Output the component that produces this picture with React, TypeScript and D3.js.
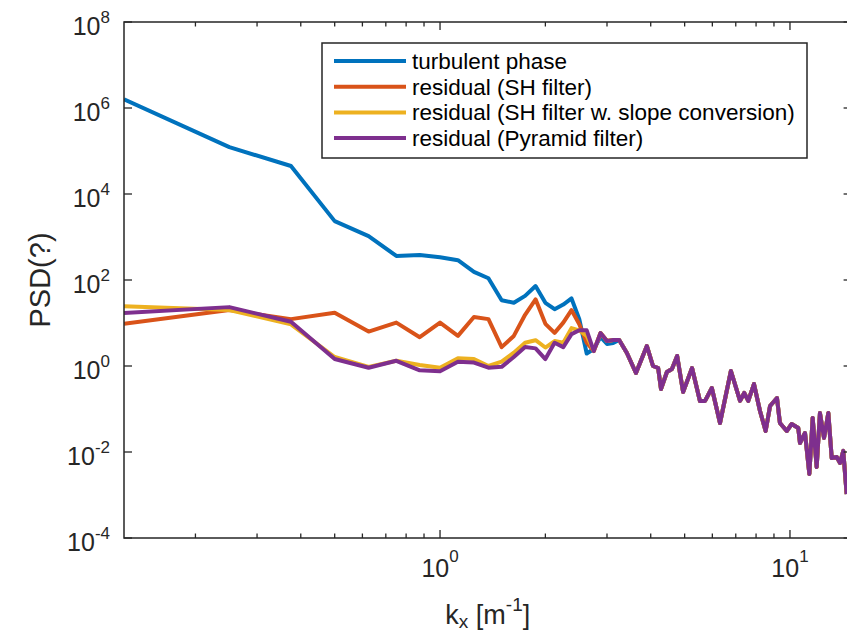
import { useMemo } from "react";
import * as d3 from "d3";

const WIDTH = 847;
const HEIGHT = 635;
// plot box (right edge falls just outside the picture, as in the reference)
const BOX = { left: 124, right: 851.6, top: 22, bottom: 538 };

// wavenumbers of the first samples (k = 1/8 ... 21/8)
const kHead = [
  0.125, 0.25, 0.375, 0.5, 0.625, 0.75, 0.875, 1.0, 1.125, 1.25, 1.375,
  1.5, 1.625, 1.75, 1.875, 2.0, 2.125, 2.25, 2.375, 2.5, 2.625,
];

const turbulentHead = [
  1.6e6, 1.23e5, 4.47e4, 2340, 1047, 363, 380, 339, 288, 155, 110,
  33.9, 29.5, 42.7, 72.4, 29.5, 20.9, 26.9, 37.2, 12.3, 1.95,
];
const turbulentExtra = [
  [2.75, 2.49], [2.875, 4.73], [3.0, 3.25], [3.125, 3.43],
];
const shHead = [
  9.55, 20.0, 12.3, 17.4, 6.31, 10.2, 4.68, 10.2, 5.01, 13.8, 12.3,
  2.75, 5.01, 15.5, 35.5, 9.55, 5.89, 10.2, 20.0, 9.33, 3.47,
];
const slopeHead = [
  24.5, 20.0, 9.33, 1.62, 0.955, 1.32, 1.05, 0.912, 1.51, 1.45, 1.0,
  1.26, 2.04, 3.47, 3.98, 2.69, 3.8, 3.47, 7.59, 6.76, 5.01,
];
const pyramidHead = [
  17.0, 23.4, 10.7, 1.45, 0.912, 1.32, 0.794, 0.759, 1.26, 1.2, 0.912,
  0.955, 1.62, 2.75, 2.57, 1.45, 3.47, 2.75, 5.5, 6.76, 6.76,
];

// high-k part where all four curves coincide: [k, psd]
const sharedTail = [
  [2.75, 2.23], [2.875, 5.85], [3.0, 3.81], [3.125, 4.02], [3.25, 4.02],
  [3.42, 2.01], [3.63, 0.688], [3.9, 2.92], [4.06, 1.0], [4.2, 0.898],
  [4.28, 0.292], [4.45, 0.725], [4.6, 0.852], [4.76, 1.71], [4.95, 0.249],
  [5.25, 0.898], [5.53, 0.154], [5.72, 0.154], [5.98, 0.308], [6.31, 0.0472],
  [6.78, 0.765], [7.2, 0.154], [7.4, 0.236], [7.6, 0.154], [7.89, 0.381],
  [8.21, 0.0898], [8.52, 0.0308], [8.77, 0.117], [9.18, 0.18], [9.36, 0.0472],
  [9.79, 0.0308], [10.11, 0.0448], [10.56, 0.0362], [10.68, 0.0162],
  [11.04, 0.0277], [11.36, 0.00308], [11.61, 0.0618], [11.92, 0.00448],
  [12.18, 0.0807], [12.51, 0.0212], [12.87, 0.0807], [13.16, 0.00725],
  [13.6, 0.00765], [13.9, 0.00555], [14.2, 0.0106], [14.52, 0.00105],
];

const seriesNames = [
  "turbulent phase",
  "residual (SH filter)",
  "residual (SH filter w. slope conversion)",
  "residual (Pyramid filter)",
];
const seriesColors = ["#0072BD", "#D95319", "#EDB120", "#7E2F8E"];

const yTickExponents = [-4, -2, 0, 2, 4, 6, 8];
const xTickExponents = [0, 1];

const AXIS = "#262626";
const FONT = "'Liberation Sans', Arial, Helvetica, sans-serif";

const App = () => {
  const xScale = useMemo(
    () => d3.scaleLog().domain([0.125, 15]).range([BOX.left, BOX.right]),
    []
  );
  const yScale = useMemo(
    () => d3.scaleLog().domain([1e-4, 1e8]).range([BOX.bottom, BOX.top]),
    []
  );

  const series = useMemo(() => {
    const head = (vals) => kHead.map((k, i) => [k, vals[i]]);
    return [
      [...head(turbulentHead), ...turbulentExtra, ...sharedTail.filter((d) => d[0] > 3.2)],
      [...head(shHead), ...sharedTail],
      [...head(slopeHead), ...sharedTail],
      [...head(pyramidHead), ...sharedTail],
    ];
  }, []);

  const line = d3
    .line()
    .x((d) => xScale(d[0]))
    .y((d) => yScale(d[1]));

  const xMinor = xScale.ticks();

  return (
    <svg
      width={WIDTH}
      height={HEIGHT}
      style={{ position: "absolute", left: 0, top: 0, background: "#fff" }}
      fontFamily={FONT}
    >
      <defs>
        <clipPath id="plot-area">
          <rect x={BOX.left} y={BOX.top} width={BOX.right - BOX.left} height={BOX.bottom - BOX.top} />
        </clipPath>
      </defs>
      <rect x={0} y={0} width={WIDTH} height={HEIGHT} fill="#fff" />

      {/* curves */}
      <g clipPath="url(#plot-area)">
        {series.map((s, i) => (
          <path
            key={i}
            d={line(s)}
            fill="none"
            stroke={seriesColors[i]}
            strokeWidth={4}
            strokeLinejoin="round"
          />
        ))}
      </g>

      {/* axes box */}
      <rect
        x={BOX.left}
        y={BOX.top}
        width={BOX.right - BOX.left}
        height={BOX.bottom - BOX.top}
        fill="none"
        stroke={AXIS}
        strokeWidth={1.5}
      />

      {/* x ticks, bottom and top */}
      {xMinor.map((t, i) => {
        const major = Math.abs(Math.log10(t) - Math.round(Math.log10(t))) < 1e-9;
        const len = major ? 8 : 4.5;
        const x = xScale(t);
        return (
          <g key={i} stroke={AXIS} strokeWidth={1.3}>
            <line x1={x} x2={x} y1={BOX.bottom} y2={BOX.bottom - len} />
            <line x1={x} x2={x} y1={BOX.top} y2={BOX.top + len} />
          </g>
        );
      })}
      {xTickExponents.map((e) => (
        <text key={e} x={xScale(10 ** e)} y={577} textAnchor="middle" fontSize={25} fill={AXIS}>
          <tspan>10</tspan>
          <tspan dy={-15} fontSize={17}>{e}</tspan>
        </text>
      ))}

      {/* y ticks, left and right */}
      {yTickExponents.map((e) => {
        const y = yScale(10 ** e);
        return (
          <g key={e}>
            <line x1={BOX.left} x2={BOX.left + 8} y1={y} y2={y} stroke={AXIS} strokeWidth={1.3} />
            <line x1={BOX.right} x2={BOX.right - 8} y1={y} y2={y} stroke={AXIS} strokeWidth={1.3} />
            <text x={110} y={y + 12.5} textAnchor="end" fontSize={25} fill={AXIS}>
              <tspan>10</tspan>
              <tspan dy={-12} fontSize={17}>{e}</tspan>
            </text>
          </g>
        );
      })}

      {/* axis labels */}
      <text
        transform={`translate(50,${(BOX.top + BOX.bottom) / 2}) rotate(-90)`}
        textAnchor="middle"
        fontSize={29}
        fill={AXIS}
      >
        PSD(?)
      </text>
      <text x={(BOX.left + BOX.right) / 2} y={624} textAnchor="middle" fontSize={27} fill={AXIS}>
        <tspan>k</tspan>
        <tspan dy={4} fontSize={19}>x</tspan>
        <tspan dy={-4}> [m</tspan>
        <tspan dy={-13} fontSize={19}>-1</tspan>
        <tspan dy={13}>]</tspan>
      </text>

      {/* legend */}
      <g>
        <rect x={322} y={43} width={485} height={115} fill="#fff" stroke={AXIS} strokeWidth={1.5} />
        {seriesNames.map((name, i) => {
          const y = 61 + i * 25.7;
          return (
            <g key={name}>
              <line x1={334} x2={406} y1={y} y2={y} stroke={seriesColors[i]} strokeWidth={4} />
              <text x={412} y={y + 8} fontSize={22.5} fill="#000">
                {name}
              </text>
            </g>
          );
        })}
      </g>
    </svg>
  );
};

export default App;
